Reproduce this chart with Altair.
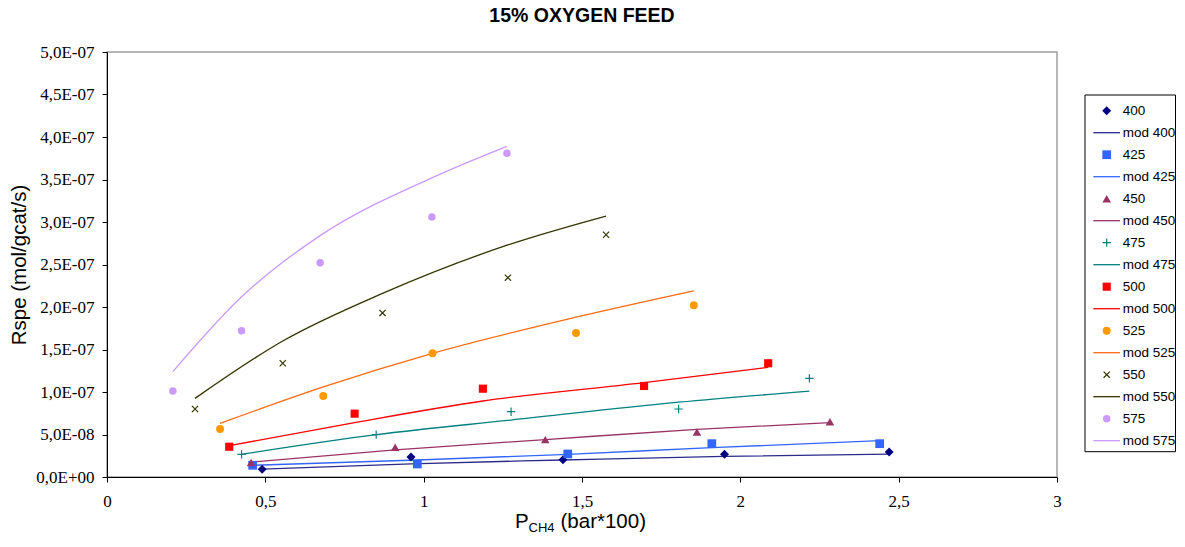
import altair as alt
import pandas as pd

# ---------------- data ----------------
series = ["400", "425", "450", "475", "500", "525", "550", "575"]

x400 = [0.49, 0.96, 1.44, 1.95, 2.47]
r400 = [0.91e-8, 2.35e-8, 2.04e-8, 2.67e-8, 2.94e-8]
m400 = [0.92e-8, 1.55e-8, 2.00e-8, 2.43e-8, 2.70e-8]

x425 = [0.46, 0.98, 1.455, 1.91, 2.44]
r425 = [1.38e-8, 1.53e-8, 2.71e-8, 3.92e-8, 3.92e-8]
m425 = [1.38e-8, 2.00e-8, 2.67e-8, 3.45e-8, 4.27e-8]

x450 = [0.455, 0.91, 1.384, 1.863, 2.283]
r450 = [1.70e-8, 3.50e-8, 4.40e-8, 5.30e-8, 6.50e-8]
m450 = [1.76e-8, 3.20e-8, 4.40e-8, 5.60e-8, 6.40e-8]

x475 = [0.425, 0.85, 1.276, 1.805, 2.218]
r475 = [2.67e-8, 4.98e-8, 7.68e-8, 8.00e-8, 1.161e-7]
m475 = [2.67e-8, 4.98e-8, 6.70e-8, 8.80e-8, 1.01e-7]

x500 = [0.386, 0.782, 1.187, 1.696, 2.088]
r500 = [3.56e-8, 7.45e-8, 1.039e-7, 1.071e-7, 1.338e-7]
m500 = [3.68e-8, 6.40e-8, 8.94e-8, 1.11e-7, 1.29e-7]

x525 = [0.357, 0.683, 1.028, 1.481, 1.853]
r525 = [5.65e-8, 9.53e-8, 1.455e-7, 1.694e-7, 2.02e-7]
m525 = [6.30e-8, 1.06e-7, 1.455e-7, 1.88e-7, 2.19e-7]

x550 = [0.278, 0.555, 0.870, 1.266, 1.576]
r550 = [8.00e-8, 1.338e-7, 1.93e-7, 2.345e-7, 2.85e-7]
m550 = [9.25e-8, 1.60e-7, 2.16e-7, 2.73e-7, 3.07e-7]

x575 = [0.208, 0.425, 0.673, 1.026, 1.263]
r575 = [1.012e-7, 1.72e-7, 2.52e-7, 3.06e-7, 3.81e-7]
m575 = [1.24e-7, 2.12e-7, 2.84e-7, 3.52e-7, 3.89e-7]

x_ticks = [0, 0.5, 1, 1.5, 2, 2.5, 3]
y_ticks = [0, 5e-8, 1e-7, 1.5e-7, 2e-7, 2.5e-7, 3e-7, 3.5e-7, 4e-7, 4.5e-7, 5e-7]

title_text = "15% OXYGEN FEED"
y_title = "Rspe (mol/gcat/s)"
x_title_parts = ["P", "CH4", "(bar*100)"]

# ---------------- styles ----------------
PLUS = "M-1,0H1M0,-1V1"
CROSS = "M-0.8,-0.8L0.8,0.8M-0.8,0.8L0.8,-0.8"
point_colors = ["#000080", "#3366FF", "#993366", "#008080", "#FF0000", "#FF9900", "#333300", "#CC99FF"]
line_colors = ["#2b2b8c", "#3366FF", "#993366", "#008080", "#FF0000", "#FF6A10", "#333300", "#CC99FF"]
shapes = ["diamond", "square", "triangle-up", PLUS, "square", "circle", CROSS, "circle"]
sizes = [80, 56, 75, 80, 60, 64, 56, 64]
filled = [True, True, True, False, True, True, False, True]

xs = [x400, x425, x450, x475, x500, x525, x550, x575]
rs = [r400, r425, r450, r475, r500, r525, r550, r575]
ms = [m400, m425, m450, m475, m500, m525, m550, m575]

pts, mods, leg = [], [], []
for i, s in enumerate(series):
    for xv, rv, mv in zip(xs[i], rs[i], ms[i]):
        pts.append({"series": s, "label": s, "P": xv, "R": rv, "filled": filled[i]})
        mods.append({"series": s, "label": "mod " + s, "P": xv, "R": mv})
    leg.append({"row": 2 * i, "label": s, "series": s, "kind": "pt", "filled": filled[i]})
    leg.append({"row": 2 * i + 1, "label": "mod " + s, "series": s, "kind": "line", "filled": False})

df_pts = pd.DataFrame(pts)
df_mod = pd.DataFrame(mods)
df_leg = pd.DataFrame(leg)

labels = []
colors = []
for i, s in enumerate(series):
    labels += [s, "mod " + s]
    colors += [point_colors[i], line_colors[i]]

color_scale = alt.Scale(domain=labels, range=colors)
shape_scale = alt.Scale(domain=series, range=shapes)
size_scale = alt.Scale(domain=series, range=sizes)

W, H = 950, 425

x_enc = alt.X("P:Q", scale=alt.Scale(domain=[0, 3], nice=False),
              axis=alt.Axis(values=x_ticks, title=None, labelFlush=False, labelOverlap=False,
                            labelExpr="replace(format(datum.value, '~g'), '.', ',')",
                            labelPadding=11))
y_enc = alt.Y("R:Q", scale=alt.Scale(domain=[0, 5e-7], nice=False),
              axis=alt.Axis(values=y_ticks, title=y_title, labelOverlap=False, labelPadding=8,
                            labelExpr="replace(replace(replace(format(datum.value, '.1e'), '.', ','), 'e-', 'E-0'), 'e+', 'E+0')",
                            titleX=-82, titleY=H / 2, titleBaseline="alphabetic",
                            titleFont="Liberation Sans", titleFontSize=20.5, titleFontWeight="normal"))
color_enc = alt.Color("label:N", scale=color_scale, legend=None)
shape_enc = alt.Shape("series:N", scale=shape_scale, legend=None)
size_enc = alt.Size("series:O", scale=size_scale, legend=None)

lines = alt.Chart(df_mod).mark_line(interpolate="monotone", strokeWidth=1.3).encode(
    x=x_enc, y=y_enc, color=color_enc, detail="series:N")
pts_f = alt.Chart(df_pts).transform_filter("datum.filled").mark_point(
    filled=True, opacity=1, strokeWidth=0).encode(
    x=x_enc, y=y_enc, color=color_enc, shape=shape_enc, size=size_enc)
pts_s = alt.Chart(df_pts).transform_filter("!datum.filled").mark_point(
    filled=False, opacity=1, strokeWidth=1.2).encode(
    x=x_enc, y=y_enc, color=color_enc, shape=shape_enc, size=size_enc)

title_mark = alt.Chart(pd.DataFrame({"t": [title_text]})).mark_text(
    font="Liberation Sans", fontSize=19.5, fontWeight="bold", align="center",
    baseline="alphabetic", color="black").encode(
    text="t:N", x=alt.value(W / 2), y=alt.value(-30))

xt_df = pd.DataFrame({"t": x_title_parts})
xt_p = alt.Chart(xt_df).transform_filter("datum.t == 'P'").mark_text(
    font="Liberation Sans", fontSize=20.5, align="left", baseline="alphabetic", color="black").encode(
    text="t:N", x=alt.value(408), y=alt.value(475.5))
xt_sub = alt.Chart(xt_df).transform_filter("datum.t == 'CH4'").mark_text(
    font="Liberation Sans", fontSize=13, align="left", baseline="alphabetic", color="black").encode(
    text="t:N", x=alt.value(421.5), y=alt.value(479.5))
xt_rest = alt.Chart(xt_df).transform_filter("datum.t == '(bar*100)'").mark_text(
    font="Liberation Sans", fontSize=20.5, align="left", baseline="alphabetic", color="black").encode(
    text="t:N", x=alt.value(453.5), y=alt.value(475.5))

main = alt.layer(lines, pts_f, pts_s, title_mark, xt_p, xt_sub, xt_rest)

# ---------------- legend (own vertical scale) ----------------
leg_y = alt.Y("row:Q", scale=alt.Scale(domain=[-2.668, 16.65], reverse=True, nice=False, zero=False), axis=None)
leg_box = alt.Chart(pd.DataFrame({"a": [0]})).mark_rect(
    fill="white", stroke="black", strokeWidth=1).encode(
    x=alt.value(978), x2=alt.value(1068.5), y=alt.value(43), y2=alt.value(399.7))
leg_pf = alt.Chart(df_leg).transform_filter("datum.kind == 'pt' && datum.filled").mark_point(
    filled=True, opacity=1, strokeWidth=0).encode(
    x=alt.value(999.7), y=leg_y, color=color_enc, shape=shape_enc, size=size_enc)
leg_ps = alt.Chart(df_leg).transform_filter("datum.kind == 'pt' && !datum.filled").mark_point(
    filled=False, opacity=1, strokeWidth=1.2).encode(
    x=alt.value(999.7), y=leg_y, color=color_enc, shape=shape_enc, size=size_enc)
leg_ln = alt.Chart(df_leg).transform_filter("datum.kind == 'line'").mark_rule(strokeWidth=1.3).encode(
    x=alt.value(986.3), x2=alt.value(1013), y=leg_y, color=color_enc)
leg_tx = alt.Chart(df_leg).mark_text(
    font="Liberation Sans", fontSize=13.5, align="left", baseline="middle", color="black").encode(
    x=alt.value(1015.7), y=leg_y, text="label:N")
legend = alt.layer(leg_box, leg_pf, leg_ps, leg_ln, leg_tx)

chart = alt.layer(main, legend).resolve_scale(y="independent").properties(
    width=W, height=H,
    autosize=alt.AutoSizeParams(type="none"),
    padding={"left": 99, "top": 44, "right": 120, "bottom": 62},
).configure_view(
    stroke="#a0a0a0", strokeWidth=1.5
).configure_axis(
    grid=False, domainColor="black", domainWidth=1, tickColor="black", tickSize=5,
    labelFont="Liberation Serif", labelFontSize=17, labelColor="black", titleColor="black"
)

chart.save("out.html", embed_options={"renderer": "svg", "actions": False})
